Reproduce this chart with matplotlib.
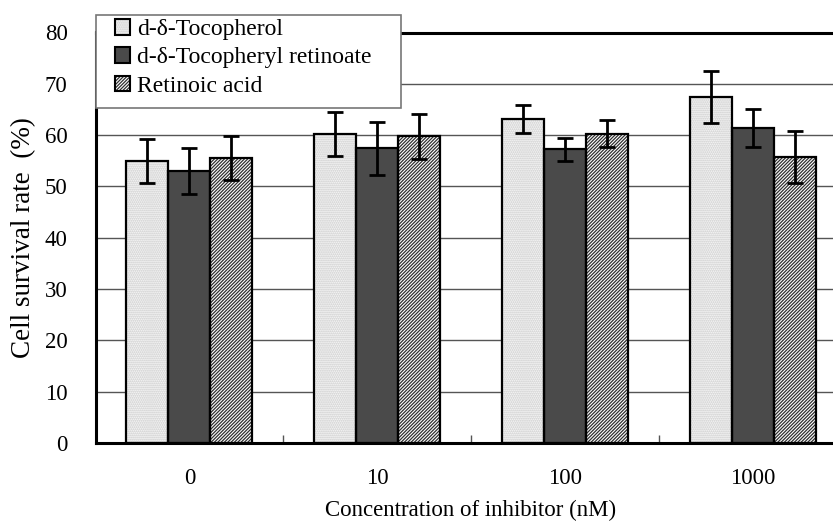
import numpy as np
import matplotlib
matplotlib.use("Agg")
import matplotlib.pyplot as plt
from matplotlib.patches import Patch, Rectangle
from matplotlib.legend_handler import HandlerTuple

plt.rcParams['font.family'] = ['Liberation Serif', 'DejaVu Serif']
plt.rcParams['hatch.linewidth'] = 0.9

concentrations = ["0", "10", "100", "1000"]
series_names = ["d-δ-Tocopherol", "d-δ-Tocopheryl retinoate", "Retinoic acid"]
tocopherol = [55.0, 60.2, 63.2, 67.4]
tocopherol_err = [4.3, 4.3, 2.7, 5.1]
retinoate = [53.0, 57.4, 57.2, 61.4]
retinoate_err = [4.5, 5.2, 2.2, 3.7]
retinoic = [55.5, 59.8, 60.3, 55.7]
retinoic_err = [4.3, 4.4, 2.7, 5.1]

values = [tocopherol, retinoate, retinoic]
errors = [tocopherol_err, retinoate_err, retinoic_err]
# face colour, hatch, hatch colour
styles = [("#f6f6f6", "........", "#c8c8c8"),
          ("#4a4a4a", None, "#4a4a4a"),
          ("white", "//////////", "#303030")]

W, H = 833, 525
fig = plt.figure(figsize=(W / 100, H / 100), dpi=100)
ax = fig.add_axes([95.5 / W, 82 / H, 751 / W, 410.5 / H])

x = np.arange(len(concentrations))
w = 0.224
handles = []
for i, (vals, errs) in enumerate(zip(values, errors)):
    fc, hatch, hc = styles[i]
    pos = x + (i - 1) * w
    ax.bar(pos, vals, w, color=fc, hatch=hatch, edgecolor=hc, linewidth=0, zorder=2)
    ax.bar(pos, vals, w, fill=False, edgecolor="black", linewidth=1.6, zorder=3)
    ax.errorbar(pos, vals, yerr=errs, fmt="none", ecolor="black",
                elinewidth=2, capsize=5.5, capthick=2, zorder=4)
    handles.append((Patch(facecolor=fc, hatch=hatch, edgecolor=hc, linewidth=0),
                    Patch(fill=False, edgecolor="black", linewidth=1.5)))

ax.set_xlim(-0.5, 3.5)
ax.set_ylim(0, 80)
ax.set_yticks(range(0, 81, 10))
ax.yaxis.grid(True, color="#555555", linewidth=1.0, zorder=0)
ax.set_axisbelow(True)

ax.set_xticks(x)
ax.set_xticklabels(concentrations)
ax.set_xticks([0.5, 1.5, 2.5], minor=True)
ax.tick_params(axis="x", which="major", length=0, pad=18, labelsize=16.5)
ax.tick_params(axis="x", which="minor", direction="in", length=6, width=1, color="#555555")
ax.tick_params(axis="y", length=0, pad=20, labelsize=16.5)

for side in ["left", "bottom", "top"]:
    ax.spines[side].set_linewidth(2.2)
    ax.spines[side].set_color("black")
ax.spines["right"].set_visible(False)

ax.set_xlabel("Concentration of inhibitor (nM)", fontsize=16.5, labelpad=8)
ax.set_ylabel("Cell survival rate  (%)", fontsize=19.5, labelpad=6)

# legend frame drawn by hand so its padding can match
fig.patches.append(Rectangle((96 / W, 1 - 108 / H), 305 / W, 93 / H,
                             transform=fig.transFigure, facecolor="white",
                             edgecolor="#777777", linewidth=1.2, zorder=3))
leg = fig.legend(handles, series_names, loc="upper left",
                 handler_map={tuple: HandlerTuple(ndivide=1, pad=0)},
                 bbox_to_anchor=(115 / W, 1 - 19 / H), fontsize=17,
                 frameon=False, handlelength=0.65, handleheight=0.65,
                 handletextpad=0.3, borderpad=0, labelspacing=0.3,
                 borderaxespad=0)
leg.set_zorder(5)

fig.savefig("out.png", dpi=100)
